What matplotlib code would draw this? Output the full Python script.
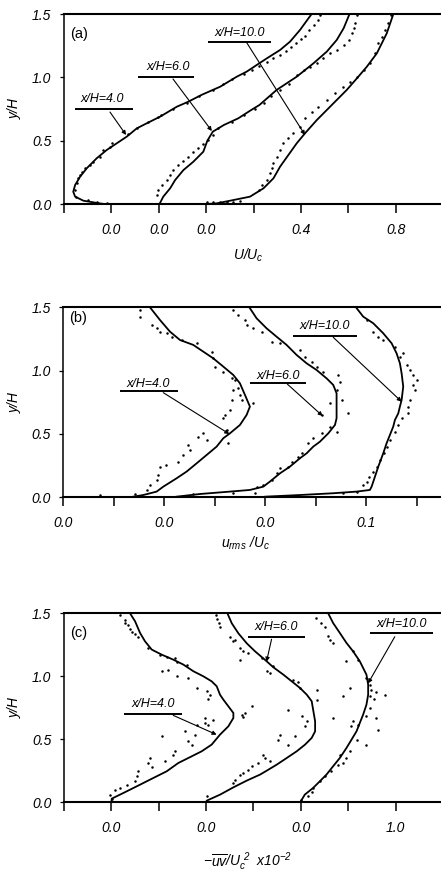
import matplotlib
matplotlib.use('Agg')
import matplotlib.pyplot as plt
import numpy as np

plt.rcParams['font.family'] = ['Liberation Sans', 'DejaVu Sans']
plt.rcParams['mathtext.fontset'] = 'custom'
plt.rcParams['mathtext.it'] = 'Liberation Sans:italic'
plt.rcParams['mathtext.rm'] = 'Liberation Sans:italic'
plt.rcParams['mathtext.sf'] = 'Liberation Sans:italic'

STATIONS = ['x/H=4.0', 'x/H=6.0', 'x/H=10.0']
Y_TICKS = [0.0, 0.5, 1.0, 1.5]
Y_TICK_LABELS = ['0.0', '0.5', '1.0', '1.5']

# ---------------- Panel (a): U/Uc ----------------
A_OFFSETS = [-0.4, -0.2, 0.0]
A_TICKS = [-0.6, -0.4, -0.2, 0.0, 0.2, 0.4, 0.6, 0.8]
A_TICK_LABELS = ['', '0.0', '0.0', '0.0', '', '0.4', '', '0.8']

A4_LINE_Y = [0.0, 0.005, 0.013, 0.026, 0.058, 0.097, 0.150, 0.216, 0.282, 0.361, 0.426, 0.532, 0.597, 0.637,
             0.689, 0.768, 0.808, 0.861, 0.926, 1.005, 1.045, 1.097, 1.150, 1.216, 1.282, 1.374, 1.5]
A4_LINE_U = [-0.03, -0.05, -0.076, -0.118, -0.153, -0.161, -0.153, -0.132, -0.104, -0.062, -0.020, 0.065, 0.107, 0.149,
             0.205, 0.276, 0.325, 0.380, 0.459, 0.529, 0.571, 0.613, 0.656, 0.712, 0.754, 0.796, 0.845]
A4_DOT_Y = [0.011, 0.018, 0.032, 0.058, 0.111, 0.163, 0.203, 0.229, 0.255, 0.282, 0.308, 0.334, 0.374, 0.426,
            0.453, 0.479, 0.55, 0.60, 0.65, 0.69, 0.70, 0.75, 0.80, 0.85, 0.90, 0.95, 0.99, 1.03, 1.06, 1.09,
            1.12, 1.15, 1.18, 1.21, 1.24, 1.27, 1.30, 1.33, 1.37, 1.41, 1.45, 1.49]
A4_DOT_U = [-0.020, -0.062, -0.097, -0.149, -0.153, -0.147, -0.139, -0.132, -0.125, -0.111, -0.090, -0.076, -0.048,
            -0.034, -0.006, 0.001, 0.07, 0.11, 0.155, 0.195, 0.21, 0.26, 0.32, 0.37, 0.43, 0.47, 0.51, 0.56, 0.595,
            0.625, 0.655, 0.68, 0.71, 0.735, 0.76, 0.78, 0.80, 0.815, 0.835, 0.855, 0.87, 0.88]

A6_LINE_Y = [0.0, 0.058, 0.124, 0.189, 0.268, 0.334, 0.413, 0.50, 0.571, 0.624, 0.676, 0.742, 0.782, 0.9,
             1.005, 1.111, 1.203, 1.295, 1.387, 1.5]
A6_LINE_U = [0.003, 0.019, 0.048, 0.069, 0.104, 0.146, 0.188, 0.205, 0.228, 0.275, 0.335, 0.39, 0.425, 0.497,
             0.582, 0.653, 0.709, 0.751, 0.780, 0.805]
A6_DOT_Y = [0.071, 0.111, 0.150, 0.189, 0.229, 0.268, 0.308, 0.342, 0.374, 0.413, 0.439, 0.474, 0.505, 0.545,
            0.60, 0.65, 0.70, 0.75, 0.80, 0.85, 0.90, 0.95, 1.018, 1.058, 1.084, 1.111, 1.150, 1.189, 1.216,
            1.255, 1.295, 1.347, 1.387, 1.426, 1.492]
A6_DOT_U = [-0.009, -0.002, 0.012, 0.034, 0.048, 0.062, 0.083, 0.104, 0.125, 0.146, 0.167, 0.188, 0.209, 0.23,
            0.25, 0.31, 0.36, 0.405, 0.445, 0.475, 0.51, 0.55, 0.582, 0.611, 0.639, 0.667, 0.695, 0.723, 0.751,
            0.780, 0.801, 0.815, 0.822, 0.829, 0.836]

A10_LINE_Y = [0.0, 0.005, 0.026, 0.058, 0.124, 0.203, 0.295, 0.387, 0.479, 0.558, 0.663, 0.742, 0.821, 0.9,
              0.992, 1.084, 1.189, 1.347, 1.5]
A10_LINE_U = [0.002, 0.044, 0.101, 0.185, 0.242, 0.284, 0.312, 0.347, 0.382, 0.417, 0.467, 0.509, 0.551, 0.593,
              0.636, 0.678, 0.720, 0.762, 0.79]
A10_DOT_Y = [0.013, 0.013, 0.013, 0.015, 0.018, 0.02, 0.111, 0.150, 0.189, 0.242, 0.282, 0.321, 0.374, 0.426,
             0.479, 0.518, 0.558, 0.611, 0.676, 0.729, 0.768, 0.821, 0.874, 0.926, 0.966, 1.005, 1.058, 1.111,
             1.189, 1.268, 1.321, 1.374, 1.426, 1.49]
A10_DOT_U = [0.002, 0.03, 0.059, 0.087, 0.115, 0.143, 0.221, 0.234, 0.256, 0.270, 0.277, 0.284, 0.298, 0.312,
             0.326, 0.347, 0.368, 0.397, 0.418, 0.446, 0.474, 0.509, 0.544, 0.579, 0.608, 0.636, 0.664, 0.692,
             0.713, 0.727, 0.741, 0.755, 0.769, 0.78]

# ---------------- Panel (b): u_rms/Uc ----------------
B_OFFSETS = [0.0, 0.1, 0.2]
B_TICKS = [0.0, 0.05, 0.10, 0.15, 0.20, 0.25, 0.30, 0.35]
B_TICK_LABELS = ['0.0', '', '0.0', '', '0.0', '', '0.1', '']

B4_LINE_Y = [0.005, 0.018, 0.045, 0.084, 0.150, 0.203, 0.268, 0.334, 0.400, 0.466, 0.505, 0.571, 0.650, 0.716,
             0.808, 0.900, 0.966, 1.032, 1.097, 1.150, 1.203, 1.242, 1.308, 1.400, 1.5]
B4_LINE_U = [0.0693, 0.0792, 0.0924, 0.099, 0.1122, 0.1221, 0.132, 0.1419, 0.1518, 0.1584, 0.165, 0.1749, 0.1815,
             0.1848, 0.1799, 0.1749, 0.1683, 0.1584, 0.1485, 0.1386, 0.1287, 0.1155, 0.1056, 0.0957, 0.0858]
B4_DOT_Y = [0.018, 0.026, 0.058, 0.097, 0.137, 0.176, 0.242, 0.255, 0.282, 0.334, 0.374, 0.413, 0.479, 0.505,
            0.453, 0.426, 0.532, 0.624, 0.650, 0.689, 0.768, 0.847, 0.926, 0.808, 0.861, 0.768, 0.742,
            0.939, 0.992, 1.032, 1.097, 1.150, 1.216, 1.242, 1.263, 1.295, 1.308, 1.334, 1.361, 1.426, 1.479]
B4_DOT_U = [0.0363, 0.071, 0.0825, 0.0858, 0.0924, 0.094, 0.0957, 0.102, 0.1139, 0.1188, 0.1254, 0.1238, 0.1337,
            0.1386, 0.1419, 0.1634, 0.1617, 0.1584, 0.16, 0.165, 0.1667, 0.1683, 0.17, 0.1749, 0.1733, 0.1766,
            0.188, 0.1667, 0.1584, 0.1502, 0.1485, 0.1469, 0.132, 0.1172, 0.1073, 0.1023, 0.0957, 0.0924, 0.0875,
            0.0759, 0.0759]

B6_LINE_Y = [0.005, 0.026, 0.045, 0.058, 0.084, 0.124, 0.189, 0.242, 0.308, 0.347, 0.400, 0.439, 0.505, 0.571,
             0.624, 0.716, 0.821, 0.887, 0.939, 1.005, 1.058, 1.124, 1.203, 1.268, 1.334, 1.413, 1.5]
B6_LINE_U = [0.0122, 0.0353, 0.065, 0.0848, 0.098, 0.1046, 0.1145, 0.1244, 0.1343, 0.1409, 0.1475, 0.1541, 0.1624,
             0.169, 0.1706, 0.1706, 0.1706, 0.1673, 0.1607, 0.1508, 0.1409, 0.131, 0.1211, 0.1112, 0.1013, 0.0914,
             0.0842]
B6_DOT_Y = [0.026, 0.030, 0.037, 0.084, 0.097, 0.137, 0.189, 0.229, 0.242, 0.282, 0.321, 0.347, 0.426, 0.466,
            0.505, 0.518, 0.558, 0.650, 0.663, 0.742, 0.768, 0.847, 0.913, 0.966, 0.992, 1.032, 1.071, 1.111,
            1.163, 1.216, 1.229, 1.308, 1.334, 1.361, 1.4, 1.439, 1.479]
B6_DOT_U = [0.0287, 0.0683, 0.0898, 0.0914, 0.098, 0.1063, 0.1112, 0.1145, 0.1228, 0.1261, 0.1327, 0.136, 0.1426,
            0.1475, 0.1558, 0.1706, 0.164, 0.1558, 0.1822, 0.164, 0.1756, 0.1706, 0.1739, 0.1723, 0.1574, 0.1508,
            0.1459, 0.1393, 0.1343, 0.1145, 0.1063, 0.0964, 0.0881, 0.0815, 0.0799, 0.0733, 0.0683]

B10_LINE_Y = [0.005, 0.018, 0.032, 0.045, 0.058, 0.084, 0.163, 0.242, 0.347, 0.426, 0.492, 0.558, 0.611, 0.663,
              0.716, 0.768, 0.874, 0.979, 1.058, 1.137, 1.216, 1.295, 1.374, 1.426, 1.5]
B10_LINE_U = [0.0, 0.0343, 0.0673, 0.0904, 0.1036, 0.1053, 0.1086, 0.1119, 0.1168, 0.1201, 0.1234, 0.1267, 0.1284,
              0.1317, 0.1333, 0.135, 0.1366, 0.135, 0.1333, 0.13, 0.1251, 0.1168, 0.1069, 0.097, 0.0898]
B10_DOT_Y = [0.032, 0.045, 0.097, 0.124, 0.163, 0.203, 0.242, 0.295, 0.347, 0.400, 0.453, 0.518, 0.571, 0.624,
             0.663, 0.716, 0.768, 0.847, 0.887, 0.926, 0.966, 1.005, 1.045, 1.111, 1.137, 1.189, 1.242, 1.268,
             1.308, 1.4]
B10_DOT_U = [0.0772, 0.0904, 0.097, 0.1003, 0.103, 0.1069, 0.1102, 0.1135, 0.1175, 0.1201, 0.1234, 0.1284, 0.1317,
             0.135, 0.1409, 0.1416, 0.1432, 0.1485, 0.1459, 0.1498, 0.1465, 0.1432, 0.1399, 0.1333, 0.1366, 0.1284,
             0.1168, 0.1119, 0.1069, 0.1003]

# ---------------- Panel (c): -uv/Uc^2 x10^-2 ----------------
C_OFFSETS = [0.5, 1.5, 2.5]
C_TICKS = [0.0, 0.5, 1.0, 1.5, 2.0, 2.5, 3.0, 3.5]
C_TICK_LABELS = ['', '0.0', '', '0.0', '', '0.0', '', '1.0']

C4_LINE_Y = [0.0, 0.029, 0.074, 0.140, 0.193, 0.246, 0.312, 0.365, 0.405, 0.458, 0.537, 0.603, 0.669, 0.709,
             0.762, 0.815, 0.854, 0.921, 0.960, 1.0, 1.040, 1.093, 1.132, 1.172, 1.212, 1.278, 1.344, 1.437, 1.5]
C4_LINE_V = [0.0, 0.004, 0.127, 0.303, 0.443, 0.584, 0.707, 0.848, 0.954, 1.059, 1.147, 1.235, 1.288, 1.288,
             1.235, 1.182, 1.147, 1.112, 1.059, 0.971, 0.866, 0.760, 0.654, 0.531, 0.426, 0.355, 0.303, 0.250,
             0.197]
C4_DOT_Y = [0.029, 0.061, 0.101, 0.114, 0.140, 0.172, 0.206, 0.246, 0.278, 0.312, 0.352, 0.325, 0.378, 0.405,
            0.524, 0.458, 0.484, 0.537, 0.563, 0.616, 0.611, 0.630, 0.669, 0.656, 0.823, 0.854, 0.881, 0.907,
            0.987, 1.0, 1.040, 1.053, 1.087, 1.114, 1.146, 1.151, 1.172, 1.225, 1.310, 1.336, 1.352, 1.378,
            1.410, 1.423, 1.450, 1.489, 0.696, 0.762, 0.709, 0.675]
C4_DOT_V = [0.004, -0.014, 0.039, 0.091, 0.162, 0.250, 0.267, 0.285, 0.426, 0.391, 0.408, 0.567, 0.654, 0.672,
            0.531, 0.848, 0.813, 0.883, 0.778, 0.901, 1.024, 0.989, 0.989, 1.077, 1.024, 1.042, 1.006, 0.901,
            0.813, 0.690, 0.531, 0.602, 0.795, 0.690, 0.672, 0.584, 0.514, 0.391, 0.285, 0.250, 0.215, 0.197,
            0.179, 0.144, 0.144, 0.091, 1.376, 1.481, 1.411, 1.393]

C6_LINE_Y = [0.0, 0.013, 0.061, 0.119, 0.172, 0.220, 0.251, 0.299, 0.352, 0.405, 0.458, 0.511, 0.563, 0.643,
             0.722, 0.802, 0.854, 0.907, 0.960, 1.013, 1.071, 1.130, 1.198, 1.262, 1.341, 1.421, 1.5]
C6_LINE_V = [0.0, 0.007, 0.148, 0.289, 0.429, 0.570, 0.640, 0.746, 0.852, 0.957, 1.045, 1.115, 1.151, 1.151,
             1.133, 1.115, 1.063, 0.992, 0.904, 0.816, 0.711, 0.623, 0.517, 0.429, 0.341, 0.271, 0.225]
C6_DOT_Y = [0.050, 0.153, 0.180, 0.220, 0.233, 0.259, 0.286, 0.312, 0.325, 0.352, 0.378, 0.458, 0.497, 0.537,
            0.524, 0.603, 0.643, 0.683, 0.735, 0.815, 0.894, 0.907, 0.955, 0.974, 1.026, 1.040, 1.079, 1.132,
            1.146, 1.185, 1.204, 1.225, 1.278, 1.288, 1.315, 1.389, 1.421, 1.452, 1.487]
C6_DOT_V = [0.014, 0.289, 0.306, 0.359, 0.394, 0.447, 0.482, 0.552, 0.676, 0.623, 0.605, 0.869, 0.764, 0.781,
            0.939, 1.045, 1.063, 1.010, 0.869, 1.168, 1.168, 0.992, 0.975, 0.922, 0.676, 0.640, 0.711, 0.359,
            0.588, 0.447, 0.394, 0.359, 0.289, 0.306, 0.253, 0.148, 0.134, 0.120, 0.106]

C10_LINE_Y = [0.0, 0.008, 0.061, 0.114, 0.167, 0.220, 0.286, 0.352, 0.431, 0.497, 0.563, 0.630, 0.696, 0.775,
              0.854, 0.934, 1.013, 1.119, 1.198, 1.265, 1.344, 1.423, 1.5]
C10_LINE_V = [0.0, 0.0, 0.042, 0.130, 0.201, 0.271, 0.341, 0.412, 0.482, 0.535, 0.588, 0.623, 0.658, 0.693,
              0.711, 0.711, 0.693, 0.623, 0.552, 0.482, 0.412, 0.341, 0.289]
C10_DOT_Y = [0.021, 0.048, 0.082, 0.114, 0.167, 0.206, 0.246, 0.294, 0.312, 0.352, 0.378, 0.405, 0.458, 0.497,
             0.577, 0.603, 0.616, 0.643, 0.667, 0.669, 0.683, 0.749, 0.823, 0.841, 0.841, 0.854, 0.876, 0.894,
             0.907, 0.929, 0.987, 1.119, 1.132, 1.198, 1.265, 1.291, 1.317, 1.389, 1.423, 1.463]
C10_DOT_V = [0.007, 0.077, 0.113, 0.130, 0.201, 0.253, 0.324, 0.394, 0.447, 0.482, 0.412, 0.517, 0.693, 0.588,
             0.816, 0.535, 0.605, 0.552, 0.341, 0.799, 0.693, 0.728, 0.771, 0.728, 0.447, 0.887, 0.799, 0.746,
             0.517, 0.728, 0.693, 0.482, 0.605, 0.552, 0.341, 0.306, 0.289, 0.253, 0.218, 0.165]

W, H = 441, 872
fig = plt.figure(figsize=(W / 100, H / 100), dpi=100)


def px_axes(left, top, right, bottom):
    return fig.add_axes([left / W, 1 - bottom / H, (right - left) / W, (bottom - top) / H])


def style_axes(ax, xlim, ticks, ticklabels):
    ax.set_xlim(*xlim)
    ax.set_ylim(0, 1.5)
    ax.spines['right'].set_visible(False)
    ax.spines['top'].set_linewidth(1.5)
    ax.spines['bottom'].set_linewidth(1.5)
    ax.spines['left'].set_linewidth(1.1)
    ax.set_xticks(ticks)
    ax.set_xticklabels(ticklabels, fontsize=10, style='italic')
    ax.set_yticks(Y_TICKS)
    ax.set_yticklabels(Y_TICK_LABELS, fontsize=10, style='italic')
    ax.tick_params(axis='x', direction='out', length=6.5, width=1.1, pad=7)
    ax.tick_params(axis='y', direction='out', length=3, width=0.9, pad=6)
    ax.tick_params(top=False, right=False)


def draw_profiles(ax, offsets, lines, dots):
    for off, (ly, lv), (dy, dv) in zip(offsets, lines, dots):
        ax.plot(np.asarray(lv) + off, ly, color='k', lw=1.3, solid_joinstyle='round')
        ax.plot(np.asarray(dv) + off, dy, 'o', color='k', ms=1.8, mew=0, clip_on=False)


def tag(ax, text, tx, ty, ux0, ux1, uy, ax0, ay0, ax1, ay1):
    ax.text(tx, ty, text, ha='center', va='center', fontsize=9, style='italic')
    ax.plot([ux0, ux1], [uy, uy], color='k', lw=1.4, solid_capstyle='butt')
    ax.annotate('', xy=(ax1, ay1), xytext=(ax0, ay0),
                arrowprops=dict(arrowstyle='-|>', color='k', lw=0.8, mutation_scale=6,
                                shrinkA=0, shrinkB=0))


# Panel (a)
axa = px_axes(64, 14, 441, 204)
style_axes(axa, (-0.6, 0.991), A_TICKS, A_TICK_LABELS)
draw_profiles(axa, A_OFFSETS,
              [(A4_LINE_Y, A4_LINE_U), (A6_LINE_Y, A6_LINE_U), (A10_LINE_Y, A10_LINE_U)],
              [(A4_DOT_Y, A4_DOT_U), (A6_DOT_Y, A6_DOT_U), (A10_DOT_Y, A10_DOT_U)])
tag(axa, STATIONS[0], -0.44, 0.83, -0.554, -0.309, 0.75, -0.406, 0.726, -0.338, 0.545)
tag(axa, STATIONS[1], -0.16, 1.08, -0.288, -0.052, 1.003, -0.140, 0.987, 0.024, 0.576)
tag(axa, STATIONS[2], 0.14, 1.35, 0.0075, 0.273, 1.279, 0.172, 1.271, 0.417, 0.545)
axa.text(0.016, 0.895, '(a)', transform=axa.transAxes, fontsize=10.5, ha='left', va='center')

# Panel (b)
axb = px_axes(63.3, 307.3, 441, 497.3)
style_axes(axb, (0.0, 0.374), B_TICKS, B_TICK_LABELS)
draw_profiles(axb, B_OFFSETS,
              [(B4_LINE_Y, B4_LINE_U), (B6_LINE_Y, B6_LINE_U), (B10_LINE_Y, B10_LINE_U)],
              [(B4_DOT_Y, B4_DOT_U), (B6_DOT_Y, B6_DOT_U), (B10_DOT_Y, B10_DOT_U)])
tag(axb, STATIONS[0], 0.0842, 0.895, 0.0561, 0.1133, 0.842, 0.099, 0.826, 0.1644, 0.50)
tag(axb, STATIONS[1], 0.2129, 0.955, 0.1848, 0.2402, 0.905, 0.2218, 0.894, 0.2568, 0.642)
tag(axb, STATIONS[2], 0.2591, 1.35, 0.2277, 0.2905, 1.273, 0.2673, 1.263, 0.335, 0.755)
axb.text(0.016, 0.942, '(b)', transform=axb.transAxes, fontsize=10.5, ha='left', va='center')

# Panel (c)
axc = px_axes(64, 613.3, 441, 802.3)
style_axes(axc, (0.0, 3.98), C_TICKS, C_TICK_LABELS)
draw_profiles(axc, C_OFFSETS,
              [(C4_LINE_Y, C4_LINE_V), (C6_LINE_Y, C6_LINE_V), (C10_LINE_Y, C10_LINE_V)],
              [(C4_DOT_Y, C4_DOT_V), (C6_DOT_Y, C6_DOT_V), (C10_DOT_Y, C10_DOT_V)])
tag(axc, STATIONS[0], 0.942, 0.78, 0.633, 1.242, 0.701, 1.153, 0.690, 1.611, 0.537)
tag(axc, STATIONS[1], 2.244, 1.39, 1.944, 2.542, 1.310, 2.191, 1.294, 2.138, 1.116)
tag(axc, STATIONS[2], 3.562, 1.415, 3.228, 3.896, 1.341, 3.492, 1.314, 3.210, 0.944)
axc.text(0.016, 0.894, '(c)', transform=axc.transAxes, fontsize=10.5, ha='left', va='center')

# axis titles
def ftext(x, y, s, **kw):
    fig.text(x / W, 1 - y / H, s, ha='center', va='center', fontsize=10, style='italic', **kw)

ftext(15, 109, 'y/H', rotation=90)
ftext(15, 403, 'y/H', rotation=90)
ftext(15, 708, 'y/H', rotation=90)
ftext(248, 255, r'$U/U_c$')
ftext(245, 543, r'$u_{rms}\ /U_c$')
ftext(248, 862, r'$-\overline{uv}/U_c^{\ 2}\ \ x10^{-2}$')

fig.savefig('out.png', dpi=100)
